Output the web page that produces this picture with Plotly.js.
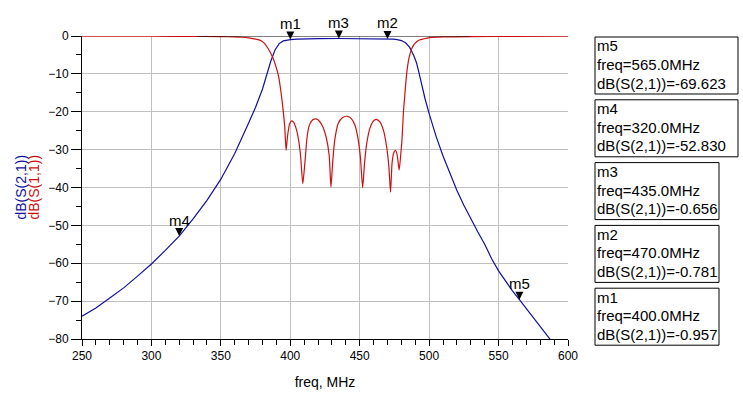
<!DOCTYPE html>
<html>
<head>
<meta charset="utf-8">
<script src="https://cdn.plot.ly/plotly-3.0.1.min.js"></script>
<style>html,body{margin:0;padding:0;background:#fff;}#chart{width:743px;height:394px;}</style>
</head>
<body>
<div id="chart"></div>
<script>
// ---- data ----
const s21Freq = [250,260,270,280,290,300,310,320,330,340,350,360,370,375,380,383,386,389,392,395,398,400,405,410,420,435,450,460,470,474,477,480,483,486,489,491,493,495,497,500,505,510,515,520,525,530,535,540,545,550,555,560,565,570,575,580,585,588];
const s21dB = [-74,-71.8,-69.2,-66.5,-63.4,-60.2,-56.6,-52.83,-48.3,-43.4,-37.8,-31,-23,-18.8,-14,-10.3,-6.6,-3.7,-2,-1.3,-1.05,-0.957,-0.85,-0.76,-0.68,-0.656,-0.67,-0.71,-0.781,-0.85,-0.95,-1.2,-1.8,-3,-5.2,-7.2,-10.2,-13.5,-16.5,-20.5,-26.5,-31.7,-36.5,-40.8,-44.7,-48.3,-51.7,-55,-58.8,-62,-64.8,-67.3,-69.623,-72,-74.5,-77,-79.3,-80.5];

const s11Freq = [250,300,330,350,360,365,370,374,378,381,384,386,388,390,391.5,393,394.5,396,397,398,399.5,401,402.5,404.5,406,407.5,409,410.5,412,413.5,416,418.5,421,423.5,426,428,429.3,430.5,432,434.5,437.5,441,444,446.5,448.5,450.5,452.1,453.5,455,457.3,459.5,462,464.5,467,469.4,471,472.2,473.3,474.5,475.8,477,478.4,479.5,480.5,481.5,482.5,483.8,485.5,487.4,489,491,493,495.7,500.5,510,530,560,600];
const s11dB = [-0.05,-0.07,-0.1,-0.17,-0.25,-0.33,-0.5,-0.75,-1.1,-1.8,-3.3,-4.6,-6.2,-8.5,-10.5,-14,-18.5,-24,-30.2,-26.5,-23.2,-22.4,-22.8,-24.8,-27.5,-32,-39,-33.5,-27,-23.8,-22.2,-21.9,-22.5,-24,-27,-31.5,-39.9,-33.5,-27.5,-23.1,-21.6,-21.2,-21.8,-23.5,-26.5,-32,-40,-33.5,-28.5,-24.4,-22.6,-22,-22.7,-24.8,-29.3,-34.5,-41.2,-33.5,-30.8,-30.2,-31.5,-35.4,-31.5,-27,-20,-15.5,-10,-5.8,-3.4,-2.3,-1.5,-1.05,-0.8,-0.45,-0.25,-0.15,-0.08,-0.05];

const refLineFreq = [333, 529];
const refLineDB = [0, 0];

const markerNames = ['m1','m2','m3','m4','m5'];
const markerFreq = [400, 470, 435, 320, 565];
const markerDB = [-0.957, -0.781, -0.656, -52.830, -69.623];
const boxOrder = ['m5','m4','m3','m2','m1'];

const xTitle = 'freq, MHz';
const yTitleS21 = 'dB(S(2,1))';
const yTitleS11 = 'dB(S(1,1))';

// ---- styles / layout ----
const FONT = 'Liberation Sans, Arial, sans-serif';
const BLUE = '#1010a0';
const RED = '#cc1010';
const W = 743, H = 394;
const M = {l: 82, r: 175, t: 36, b: 55};
const plotW = W - M.l - M.r, plotH = H - M.t - M.b;
const px2x = p => (p - M.l) / plotW;
const py2y = p => (H - M.b - p) / plotH;

const traces = [
  {x: s21Freq, y: s21dB, type: 'scatter', mode: 'lines', line: {color: BLUE, width: 1.2}, hoverinfo: 'skip'},
  {x: s11Freq, y: s11dB, type: 'scatter', mode: 'lines', line: {color: RED, width: 1.2, shape: 'spline', smoothing: 0.6}, hoverinfo: 'skip'},
  {x: refLineFreq, y: refLineDB, type: 'scatter', mode: 'lines', line: {color: 'black', width: 1.2}, hoverinfo: 'skip'},
  {x: markerFreq, y: markerDB, type: 'scatter', mode: 'markers', marker: {symbol: 'arrow-down', size: 8, color: 'black'}, hoverinfo: 'skip', cliponaxis: false}
];

const annotations = [];
const shapes = [];
markerNames.forEach((n, i) => {
  annotations.push({x: markerFreq[i], y: markerDB[i], xref: 'x', yref: 'y', text: n, showarrow: false,
    yshift: 16, font: {family: FONT, size: 15, color: 'black'}});
});

boxOrder.forEach((n, k) => {
  const i = markerNames.indexOf(n);
  const lines = [n, 'freq=' + markerFreq[i].toFixed(1) + 'MHz', 'dB(S(2,1))=' + markerDB[i].toFixed(3)];
  const top = 37 + 62.8 * k;
  const right = lines[2].length >= 18 ? 738 : 719;
  shapes.push({type: 'rect', xref: 'paper', yref: 'paper', x0: px2x(595), x1: px2x(right), y0: py2y(top), y1: py2y(top + 57), line: {color: 'black', width: 1}});
  lines.forEach((t, j) => {
    annotations.push({x: px2x(596), y: py2y(top + 9 + 18.5 * j), xref: 'paper', yref: 'paper', xanchor: 'left', yanchor: 'middle',
      text: t, showarrow: false, borderpad: 0, font: {family: FONT, size: 15, color: 'black'}});
  });
});

annotations.push({x: px2x(20), y: 0.5, xref: 'paper', yref: 'paper', text: yTitleS21, textangle: -90, showarrow: false,
  font: {family: FONT, size: 14, color: BLUE}, xanchor: 'center', yanchor: 'middle'});
annotations.push({x: px2x(33), y: 0.5, xref: 'paper', yref: 'paper', text: yTitleS11, textangle: -90, showarrow: false,
  font: {family: FONT, size: 14, color: RED}, xanchor: 'center', yanchor: 'middle'});

const layout = {
  width: W, height: H,
  margin: M,
  paper_bgcolor: 'white', plot_bgcolor: 'white',
  showlegend: false,
  font: {family: FONT, size: 12, color: 'black'},
  xaxis: {
    range: [250, 600], dtick: 50, tick0: 250, ticks: 'outside', ticklen: 6, tickcolor: 'black', tickwidth: 1,
    showline: true, linecolor: 'black', linewidth: 1, showgrid: true, gridcolor: '#c0c0c0', gridwidth: 1, zeroline: false,
    minor: {dtick: 10, ticks: 'outside', ticklen: 5, tickcolor: 'black', showgrid: false},
    tickfont: {family: FONT, size: 12, color: 'black'},
    title: {text: xTitle, font: {family: FONT, size: 14, color: 'black'}, standoff: 14},
    automargin: false, fixedrange: true
  },
  yaxis: {
    range: [-80, 0], dtick: 10, tick0: 0, ticks: 'outside', ticklen: 10, tickcolor: 'black', tickwidth: 1,
    showline: true, linecolor: 'black', linewidth: 1, showgrid: true, gridcolor: '#c0c0c0', gridwidth: 1, zeroline: false,
    minor: {dtick: 5, ticks: 'outside', ticklen: 5, tickcolor: 'black', showgrid: false},
    tickfont: {family: FONT, size: 12, color: 'black'},
    automargin: false, fixedrange: true
  },
  annotations: annotations,
  shapes: shapes
};

Plotly.newPlot('chart', traces, layout, {staticPlot: true, displayModeBar: false});
</script>
</body>
</html>
